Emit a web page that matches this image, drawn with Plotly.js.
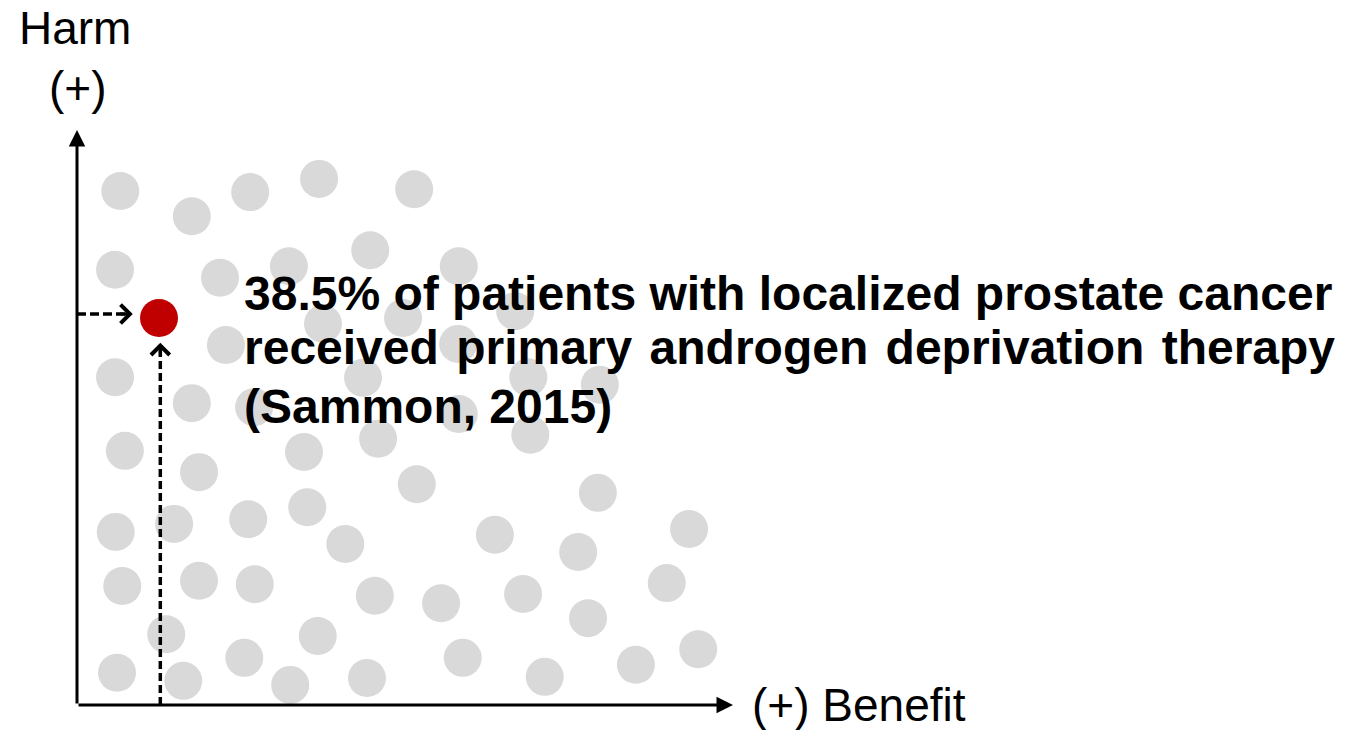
<!DOCTYPE html>
<html>
<head>
<meta charset="utf-8">
<script src="https://cdn.plot.ly/plotly-3.0.1.min.js"></script>
<style>html,body{margin:0;padding:0;background:#fff;}#chart{width:1352px;height:730px;}</style>
</head>
<body>
<div id="chart"></div>
<script>
// Gray patient dots: benefit (x) and harm (y) scores, 0-100 scale
const benefit = [6.6, 17.5, 26.4, 36.9, 51.4, 5.8, 21.8, 32.3, 44.7, 58.2,
  22.7, 37.5, 49.7, 58.1, 66.8, 5.8, 17.5, 27.0, 43.6, 58.2,
  68.8, 79.7, 7.3, 18.6, 34.6, 45.9, 69.1, 51.8, 79.4, 5.9,
  14.8, 26.1, 35.1, 40.9, 63.7, 76.4, 93.3, 6.9, 18.6, 27.1,
  45.4, 55.5, 68.0, 77.9, 89.9, 13.6, 36.7, 6.1, 16.2, 25.5,
  32.5, 44.2, 58.8, 71.3, 85.2, 94.7];
const harm = [89.4, 85.0, 89.2, 91.5, 89.7, 75.7, 74.3, 76.3, 79.1, 76.3,
  62.6, 66.3, 67.3, 62.8, 68.5, 57.0, 52.5, 51.8, 56.9, 50.6,
  57.0, 55.7, 44.2, 40.5, 44.0, 46.3, 47.0, 38.4, 36.9, 30.1,
  31.5, 32.3, 34.4, 28.0, 29.6, 26.6, 30.6, 20.7, 21.6, 21.0,
  19.0, 17.7, 19.3, 15.1, 21.2, 12.3, 12.0, 5.6, 4.2, 8.2,
  3.5, 4.7, 8.2, 4.9, 7.0, 9.7];
// Highlighted point
const highlightBenefit = [12.5];
const highlightHarm = [67.3];
// Texts
const yLabelTop = "Harm";
const yLabelSign = "(+)";
const xLabel = "(+) Benefit";
const noteLines = [
  "38.5% of patients with localized prostate cancer",
  "received primary androgen deprivation therapy",
  "(Sammon, 2015)"
];

const FONT = "'Liberation Sans', Arial, Helvetica, sans-serif";

const traces = [
  {
    type: "scatter", mode: "markers",
    x: benefit, y: harm,
    marker: {size: 38, color: "#d9d9d9", line: {width: 0}},
    cliponaxis: false, hoverinfo: "skip", showlegend: false
  },
  {
    type: "scatter", mode: "markers",
    x: highlightBenefit, y: highlightHarm,
    marker: {size: 38, color: "#c00000", line: {width: 0}},
    cliponaxis: false, hoverinfo: "skip", showlegend: false
  }
];

const hx = highlightBenefit[0], hy = highlightHarm[0];
const hLineY = hy + 0.7;      // horizontal dashed guide
const vLineX = hx + 0.2;      // vertical dashed guide
const hTipX = hx - 4.0;
const vTipY = hy - 4.3;

const shapes = [
  {type: "line", xref: "x", yref: "y", x0: 0, y0: hLineY, x1: hTipX - 0.8, y1: hLineY,
   line: {color: "#000", width: 3.5, dash: "9px,4px"}},
  {type: "line", xref: "x", yref: "y", x0: vLineX, y0: 0, x1: vLineX, y1: vTipY - 1,
   line: {color: "#000", width: 3.5, dash: "8px,4px"}}
];

const annotations = [
  // axes with arrows
  {xref: "x", yref: "y", axref: "x", ayref: "y", x: 100, y: 0, ax: 0, ay: 0,
   text: "", showarrow: true, arrowhead: 2, arrowwidth: 3, arrowsize: 1.1, arrowcolor: "#000", standoff: 0},
  {xref: "x", yref: "y", axref: "x", ayref: "y", x: 0, y: 100, ax: 0, ay: 0,
   text: "", showarrow: true, arrowhead: 2, arrowwidth: 3, arrowsize: 1.1, arrowcolor: "#000", standoff: 0},
  // dashed guide heads
  {xref: "x", yref: "y", x: hTipX, y: hLineY, ax: -14, ay: 0,
   text: "", showarrow: true, arrowhead: 4, arrowwidth: 3, arrowsize: 1.2, arrowcolor: "#000", standoff: 0},
  {xref: "x", yref: "y", x: vLineX, y: vTipY, ax: 0, ay: 14,
   text: "", showarrow: true, arrowhead: 4, arrowwidth: 3, arrowsize: 1.2, arrowcolor: "#000", standoff: 0},
  // axis labels
  {xref: "paper", yref: "paper", x: -0.0038, y: 1.178, xanchor: "center", yanchor: "middle",
   text: yLabelTop, showarrow: false, font: {family: FONT, size: 46, color: "#000"}},
  {xref: "paper", yref: "paper", x: 0.0015, y: 1.073, xanchor: "center", yanchor: "middle",
   text: yLabelSign, showarrow: false, font: {family: FONT, size: 46, color: "#000"}},
  {xref: "paper", yref: "paper", x: 1.026, y: 0.0, xanchor: "left", yanchor: "middle",
   text: xLabel, showarrow: false, font: {family: FONT, size: 46, color: "#000"}}
];

const noteY = [0.7165, 0.6209, 0.5200];
noteLines.forEach(function (t, i) {
  // line 2 is justified in the reference: widen its word gaps slightly
  const txt = (i === 1) ? t.split(" ").join(" \u200A") : t;
  annotations.push({xref: "paper", yref: "paper", x: 0.253, y: noteY[i], xanchor: "left", yanchor: "middle",
    text: "<b>" + txt + "</b>", showarrow: false, borderpad: 0,
    font: {family: FONT, size: 48, color: "#000"}});
});

const layout = {
  width: 1352, height: 730,
  margin: {l: 77, r: 619, t: 130, b: 25, pad: 0},
  paper_bgcolor: "#fff", plot_bgcolor: "#fff",
  showlegend: false,
  xaxis: {range: [0, 100], visible: false, fixedrange: true},
  yaxis: {range: [0, 100], visible: false, fixedrange: true},
  shapes: shapes,
  annotations: annotations
};

Plotly.newPlot("chart", traces, layout, {staticPlot: true, displayModeBar: false});
</script>
</body>
</html>
